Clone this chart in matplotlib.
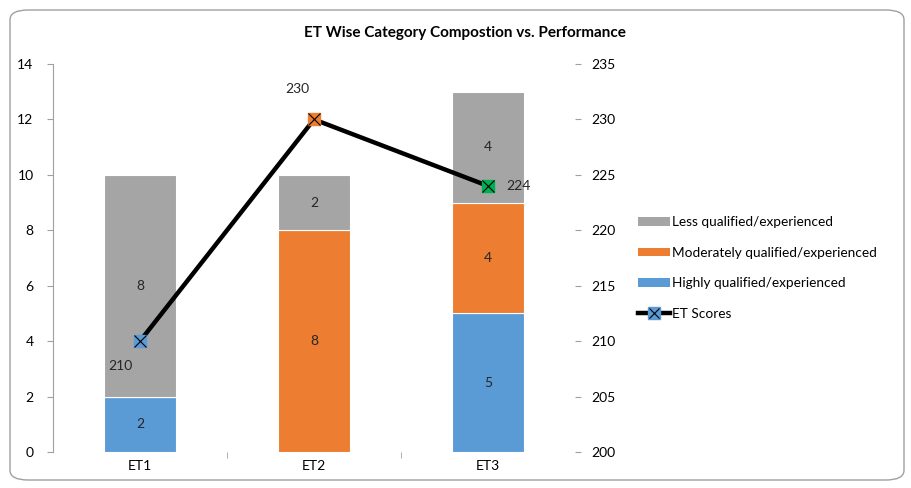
import matplotlib
matplotlib.use("Agg")
import matplotlib.pyplot as plt
from matplotlib.patches import FancyBboxPatch
from matplotlib.lines import Line2D
from matplotlib.patches import Patch

plt.rcParams['font.family'] = ['Lato', 'DejaVu Sans']

categories = ["ET1", "ET2", "ET3"]
highly = [2, 0, 5]
moderately = [0, 8, 4]
less = [8, 2, 4]
scores = [210, 230, 224]

c_less = "#A5A5A5"
c_mod = "#ED7D31"
c_high = "#5B9BD5"
marker_colors = ["#5B9BD5", "#ED7D31", "#00B050"]

fig = plt.figure(figsize=(9.12, 4.88), dpi=100)
W, H = 912, 488
ax = fig.add_axes([53 / W, 1 - 452 / H, (575 - 53) / W, (452 - 64) / H])
ax2 = ax.twinx()

x = list(range(len(categories)))
bw = 0.41
ax.bar(x, highly, bw, color=c_high, edgecolor="white", linewidth=0.8)
ax.bar(x, moderately, bw, bottom=highly, color=c_mod, edgecolor="white", linewidth=0.8)
bottom3 = [h + m for h, m in zip(highly, moderately)]
ax.bar(x, less, bw, bottom=bottom3, color=c_less, edgecolor="white", linewidth=0.8)

for i in x:
    for val, bot in ((highly[i], 0), (moderately[i], highly[i]), (less[i], bottom3[i])):
        if val > 0:
            ax.text(i, bot + val / 2, str(val), ha="center", va="center", fontsize=10, color="#262626")

ax.set_xlim(-0.5, 2.5)
ax.set_ylim(0, 14)
ax.set_yticks(range(0, 15, 2))
ax.set_xticks(x)
ax.set_xticklabels(categories, fontsize=10)
ax.set_xticks([0.5, 1.5], minor=True)
ax.tick_params(axis="x", which="major", length=0, pad=6)
ax.tick_params(axis="x", which="minor", length=4, color="#A0A0A0")
ax.tick_params(axis="y", length=4, color="#A0A0A0", labelsize=10, pad=10)
for s in ("top", "right", "bottom"):
    ax.spines[s].set_visible(False)
ax.spines["left"].set_color("#A0A0A0")

ax2.plot(x, scores, color="black", linewidth=3.2, zorder=5)
for i in x:
    ax2.plot(x[i], scores[i], marker="s", markersize=9, markerfacecolor=marker_colors[i],
             markeredgecolor=marker_colors[i], linestyle="none", zorder=6)
    ax2.plot(x[i], scores[i], marker="x", markersize=8, markeredgecolor="black",
             markeredgewidth=0.8, linestyle="none", zorder=7)
ax2.set_ylim(200, 235)
ax2.set_yticks(range(200, 236, 5))
ax2.tick_params(axis="y", length=4, color="#A0A0A0", labelsize=10, pad=8)
for s in ("top", "right", "bottom", "left"):
    ax2.spines[s].set_visible(False)

ax2.annotate(str(scores[0]), (x[0], scores[0]), xytext=(-14, -18), textcoords="offset points",
             ha="center", va="center", fontsize=10, color="#262626")
ax2.annotate(str(scores[1]), (x[1], scores[1]), xytext=(-12, 22), textcoords="offset points",
             ha="center", va="center", fontsize=10, color="#262626")
ax2.annotate(str(scores[2]), (x[2], scores[2]), xytext=(22, 0), textcoords="offset points",
             ha="center", va="center", fontsize=10, color="#262626")

fig.text(465 / W, 1 - 33 / H, "ET Wise Category Compostion vs. Performance",
         ha="center", va="center", fontsize=11, fontweight="bold")

line_handle = Line2D([0], [0], color="black", linewidth=3.2, marker="s", markersize=8,
                     markerfacecolor=c_high, markeredgecolor=c_high)
x_handle = Line2D([0], [0], linestyle="none", marker="x", markersize=7,
                  markeredgecolor="black", markeredgewidth=0.8)
handles = [
    Patch(facecolor=c_less),
    Patch(facecolor=c_mod),
    Patch(facecolor=c_high),
    (line_handle, x_handle),
]
labels = ["Less qualified/experienced", "Moderately qualified/experienced",
          "Highly qualified/experienced", "ET Scores"]
fig.legend(handles, labels, loc="center left", bbox_to_anchor=(626 / W, 1 - 268 / H),
           frameon=False, fontsize=9.8, handlelength=2.3, handleheight=0.6,
           labelspacing=1.35, handletextpad=0.2)

frame = FancyBboxPatch((10 / W, 8 / H), (904 - 10) / W, (478 - 8) / H,
                       boxstyle="round,pad=0,rounding_size=0.02", transform=fig.transFigure,
                       facecolor="none", edgecolor="#A0A0A0", linewidth=1)
fig.patches.append(frame)

fig.savefig("out.png", dpi=100)
